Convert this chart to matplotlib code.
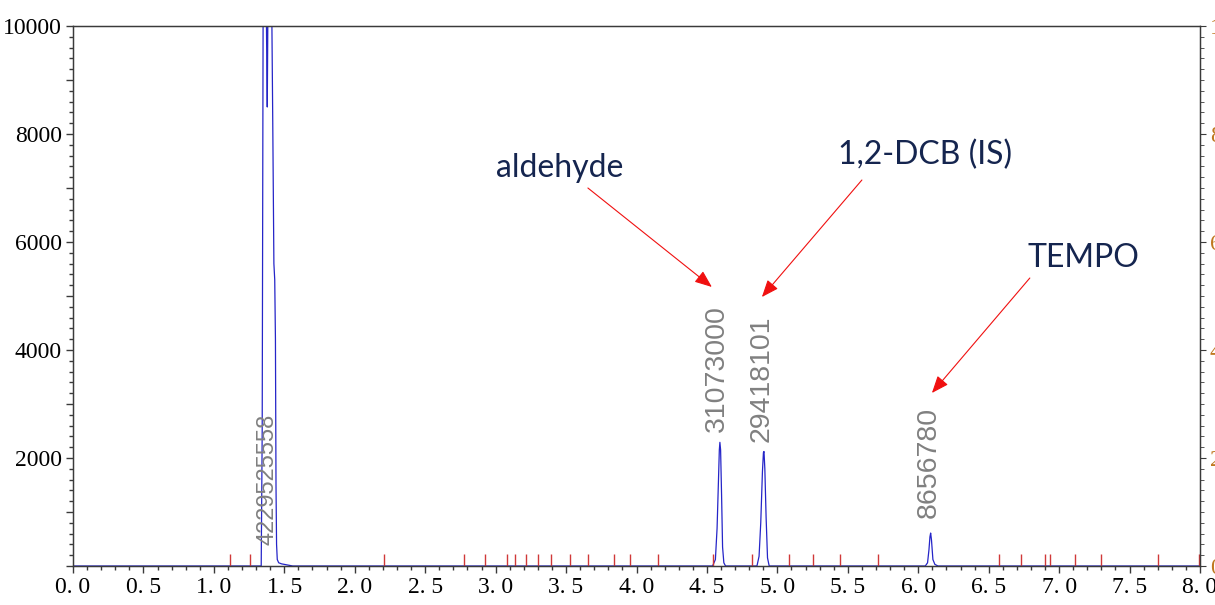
import matplotlib.pyplot as plt
from matplotlib.ticker import MultipleLocator, FuncFormatter

# retention time (min) / detector signal, read along each peak
solvent_rt = [1.30, 1.336, 1.343, 1.350, 1.360, 1.368, 1.374, 1.379, 1.384, 1.392,
              1.402, 1.410, 1.418, 1.426, 1.432, 1.437, 1.441, 1.445, 1.450, 1.460,
              1.480, 1.510, 1.540, 1.560]
solvent_sig = [0, 0, 2500, 10800, 13500, 12000, 9800, 8500, 10500, 13000,
               12500, 10600, 8200, 5600, 5300, 4200, 1500, 400, 120, 60,
               40, 25, 10, 0]

aldehyde_rt = [4.540, 4.560, 4.572, 4.582, 4.588, 4.592, 4.597, 4.604, 4.611, 4.620, 4.632]
aldehyde_sig = [0, 120, 700, 1600, 2150, 2290, 2150, 1300, 350, 60, 0]

dcb_rt = [4.855, 4.870, 4.882, 4.894, 4.901, 4.905, 4.911, 4.920, 4.930, 4.942]
dcb_sig = [0, 180, 800, 1750, 2100, 2120, 1800, 900, 150, 0]

tempo_rt = [6.050, 6.066, 6.076, 6.083, 6.088, 6.094, 6.104, 6.118, 6.140]
tempo_sig = [0, 60, 300, 540, 610, 480, 120, 30, 0]

# integration event marks on the baseline
event_rt = [1.111, 1.253, 2.209, 2.775, 2.922, 3.080, 3.134, 3.216, 3.303, 3.393,
            3.529, 3.657, 3.841, 3.953, 4.153, 4.542, 4.823, 5.079, 5.252, 5.441,
            5.711, 6.576, 6.726, 6.901, 6.932, 7.110, 7.296, 7.705, 7.995]

# peak areas printed above the peaks
area_rt = [1.384, 4.571, 4.890, 6.075]
area_text = ["4229525558", "31073000", "29418101", "8656780"]
area_base = [380, 2480, 2300, 880]
area_size = [17, 20.5, 20.5, 20.5]

# compound names with arrows
names = ["aldehyde", "1,2-DCB (IS)", "TEMPO"]
name_xy = [(3.456, 7370), (6.047, 7611), (7.175, 5704)]
arrow_from = [(3.655, 7000), (5.600, 7148), (6.792, 5333)]
arrow_to = [(4.535, 5167), (4.890, 4981), (6.097, 3204)]

rt = [0.0] + solvent_rt + aldehyde_rt + dcb_rt + tempo_rt + [8.0]
sig = [0] + solvent_sig + aldehyde_sig + dcb_sig + tempo_sig + [0]

fig = plt.figure(figsize=(12.15, 6.05), dpi=100)
ax = fig.add_axes([73 / 1215, 39 / 605, 1127 / 1215, 540 / 605])

ax.plot(rt, sig, color="#2525C8", lw=0.9, zorder=2)
ax.vlines(event_rt, 0, 230, color="#D03838", lw=1.0, zorder=3)

for x, txt, y, fs in zip(area_rt, area_text, area_base, area_size):
    ax.text(x, y, txt, rotation=90, ha="center", va="bottom",
            fontsize=fs, color="#808080", family="Liberation Sans", zorder=4)

for name, (tx, ty), p0, p1 in zip(names, name_xy, arrow_from, arrow_to):
    ax.text(tx, ty, name, ha="center", va="center", fontsize=23,
            color="#15254F", family="Lato")
    ax.annotate("", xy=p1, xytext=p0,
                arrowprops=dict(arrowstyle="-|>,head_length=0.7,head_width=0.28",
                                color="#F01010", lw=0.8, mutation_scale=15,
                                shrinkA=0, shrinkB=0))

ax.set_xlim(0, 8)
ax.set_ylim(0, 10000)

ax.xaxis.set_major_locator(MultipleLocator(0.5))
ax.xaxis.set_minor_locator(MultipleLocator(0.1))
ax.xaxis.set_major_formatter(FuncFormatter(lambda v, p: ("%.1f" % v).replace(".", ". ")))
ax.yaxis.set_major_locator(MultipleLocator(1000))
ax.yaxis.set_minor_locator(MultipleLocator(200))
ax.yaxis.set_major_formatter(
    FuncFormatter(lambda v, p: "%d" % v if v > 0 and int(v) % 2000 == 0 else ""))

for s in ax.spines.values():
    s.set_color("#3A3A3A")
    s.set_linewidth(1.0)
    s.set_zorder(5)

ax.tick_params(axis="both", which="major", direction="out", length=5,
               width=1, color="#3A3A3A", labelsize=17, pad=3)
ax.tick_params(axis="both", which="minor", direction="out", length=3,
               width=1, color="#3A3A3A")
for lab in ax.get_xticklabels() + ax.get_yticklabels():
    lab.set_family("Liberation Serif")

# right-hand axis, labels run off the edge
ax2 = ax.twinx()
ax2.set_ylim(0, 10000)
ax2.yaxis.set_major_locator(MultipleLocator(2000))
ax2.yaxis.set_minor_locator(MultipleLocator(200))
ax2.tick_params(axis="y", which="major", direction="out", length=4,
                color="#3A3A3A", labelsize=17, labelcolor="#C07820", pad=3)
ax2.tick_params(axis="y", which="minor", direction="out", length=3, color="#3A3A3A")
for s in ax2.spines.values():
    s.set_color("#3A3A3A")
for lab in ax2.get_yticklabels():
    lab.set_family("Liberation Serif")

fig.savefig("out.png", dpi=100)
